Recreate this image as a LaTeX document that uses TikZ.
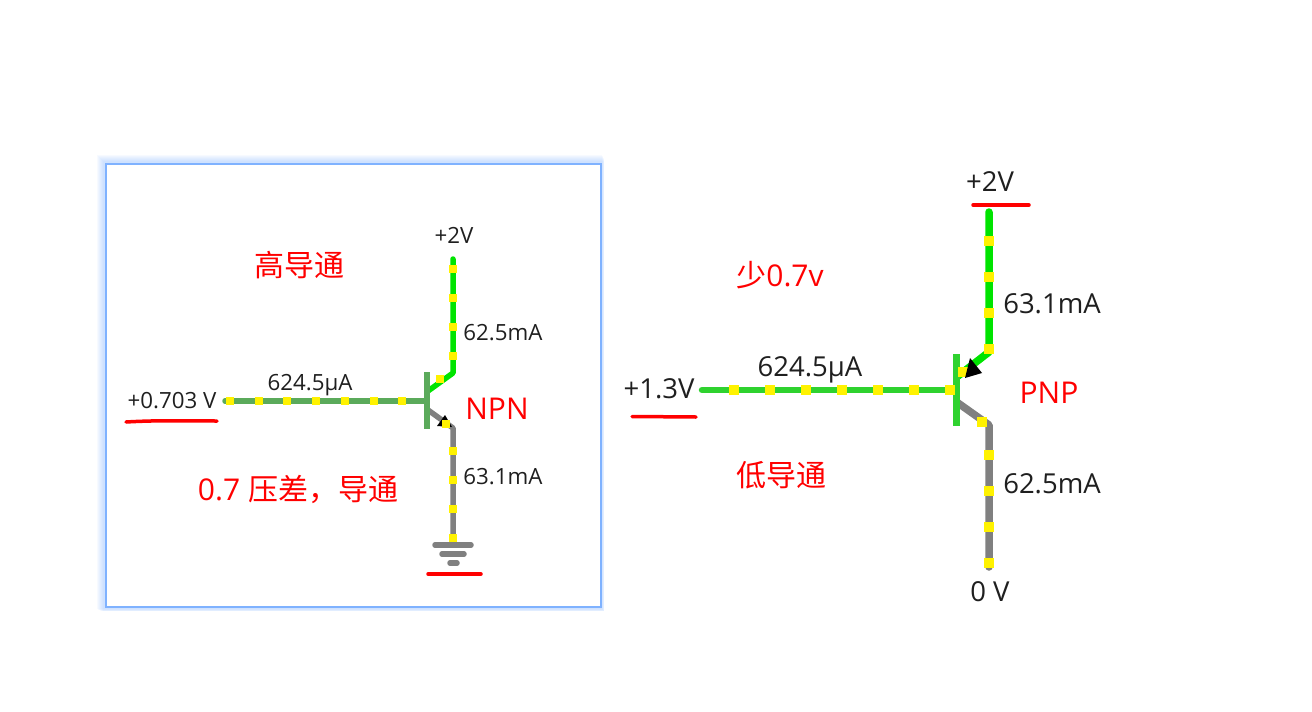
\documentclass[tikz,border=0pt]{standalone}
\usepackage{fontspec}
\setmainfont{Open Sans}
\newfontfamily\cjk{Noto Sans CJK SC}
\begin{document}
\begin{tikzpicture}[x=1pt,y=-1pt,
  wire/.style={line width=#1,line join=round,line cap=round},
  wire/.default=5.5pt,
  lbl/.style={inner sep=0pt,text=black!88,font=\fontsize{27.5}{32}\selectfont},
  slbl/.style={inner sep=0pt,text=black!88,font=\fontsize{22.3}{26}\selectfont},
  note/.style={inner sep=0pt,text=red,font=\fontsize{30}{35}\selectfont},
  cnote/.style={inner sep=0pt,text=red,font=\cjk\fontsize{30}{35}\selectfont},
  mark line/.style={draw=red,line width=3.5pt,line cap=round},
  dot/.style={fill=yellow,minimum size=7.5pt,inner sep=0pt,outer sep=0pt,draw=none,rectangle},
  bigdot/.style={dot,minimum size=9.5pt}]
\definecolor{bgreen}{HTML}{00E400}
\definecolor{mgreen}{HTML}{2FD22F}
\definecolor{dgreen}{HTML}{5BAA5B}
\definecolor{wgray}{HTML}{808080}
\definecolor{glow}{HTML}{7FB2FF}
\useasboundingbox (0,0) rectangle (1312,712);
\fill[white] (0,0) rectangle (1312,712);
% panel glow
\foreach \o/\p in {8/1,7/1.5,6/2,5/2.5,4/3,3/3,2/3}{
  \fill[glow,opacity=0.06] (105-\o,163-\o) rectangle (601+\p,608+\p);}
\node[draw=glow,line width=2pt,fill=white,minimum width=495pt,minimum height=443pt,inner sep=0pt,outer sep=0pt,anchor=north west] (panel) at (106,164) {};

% NPN
\coordinate (nI) at (225,401);
\coordinate (nB) at (427,401);
\coordinate (nC) at (453,259);
\coordinate (nCk) at (453,373);
\coordinate (nCb) at (428,391);
\coordinate (nEb) at (428,410);
\coordinate (nEk) at (453,428);
\coordinate (nG) at (453,543);
\draw[wire,dgreen] (nI) -- (nB);
\draw[wire,bgreen] (nC) -- (nCk) -- (nCb);
\draw[wire,wgray] (nEb) -- (nEk) -- (nG);
\draw[line width=6pt,dgreen] (427,372) -- (427,429);
\fill[black] (437,426) -- (445,415) -- (452,427) -- cycle;
\foreach \p in {230,259,287,316,345,374,402}{\node[dot] at (\p,401) {};}
\foreach \p in {269,298,327,356}{\node[dot] at (453,\p) {};}
\node[dot] at (440,379) {};
\node[dot] at (446,424) {};
\foreach \p in {451,480,509,538}{\node[dot] at (453,\p) {};}
% ground
\draw[wire=5.5pt,wgray] (435,545) -- (471,545);
\draw[wire=5.5pt,wgray] (442,554) -- (464,554);
\draw[wire=5.5pt,wgray] (450,563) -- (457,563);

\node[slbl] (t1) at (454,235) {+2V};
\node[slbl] (t2) at (503,333) {62.5mA};
\node[slbl] (t3) at (503,477) {63.1mA};
\node[slbl] (t4) at (310,385) {624.5μA};
\node[slbl] (t5) at (172,401) {+0.703 V};
\node[note] (t6) at (497,409) {NPN};
\node[cnote] (t7) at (299,265) {高导通};
\node[note] (t8) at (298,489) {0.7 {\cjk 压差，导通}};

\draw[mark line] (126,422) .. controls (160,420) and (190,421) .. (217,421);
\draw[mark line] (428,574) -- (481,574);

% PNP
\coordinate (pI) at (702,390);
\coordinate (pB) at (956,390);
\coordinate (pE) at (989,212);
\coordinate (pEk) at (989,352);
\coordinate (pEb) at (958,376);
\coordinate (pCb) at (958,403);
\coordinate (pCk) at (989,425);
\coordinate (pG) at (989,567);
\draw[wire=6.5pt,mgreen] (pI) -- (pB);
\draw[wire=7.5pt,bgreen] (pE) -- (pEk) -- (pEb);
\draw[wire=7.5pt,wgray] (pCb) -- (pCk) -- (pG);
\draw[line width=7pt,mgreen] (956,354) -- (956,426);
\foreach \p in {734,770,806,842,878,914,950}{\node[bigdot] at (\p,390) {};}
\foreach \p in {241,277,313,349}{\node[bigdot] at (989,\p) {};}
\node[bigdot] at (963,372) {};
\node[bigdot] at (982,422) {};
\foreach \p in {455,491,527,563}{\node[bigdot] at (989,\p) {};}
\fill[black] (965,378) -- (970,358) -- (982,373) -- cycle;

\node[lbl] (p1) at (990,182) {+2V};
\node[lbl] (p2) at (1052,304) {63.1mA};
\node[lbl] (p3) at (1052,484) {62.5mA};
\node[lbl] (p4) at (810,370) {624.5μA};
\node[lbl] (p5) at (659,389) {+1.3V};
\node[lbl] (p6) at (990,592) {0 V};
\node[note] (p7) at (1049,393) {PNP};
\node[note] (p8) at (780,275) {{\cjk 少}0.7v};
\node[cnote] (p9) at (781,475) {低导通};

\draw[mark line] (973,205) -- (1029,205);
\draw[mark line] (632,416.5) -- (696,417);
\end{tikzpicture}
\end{document}
